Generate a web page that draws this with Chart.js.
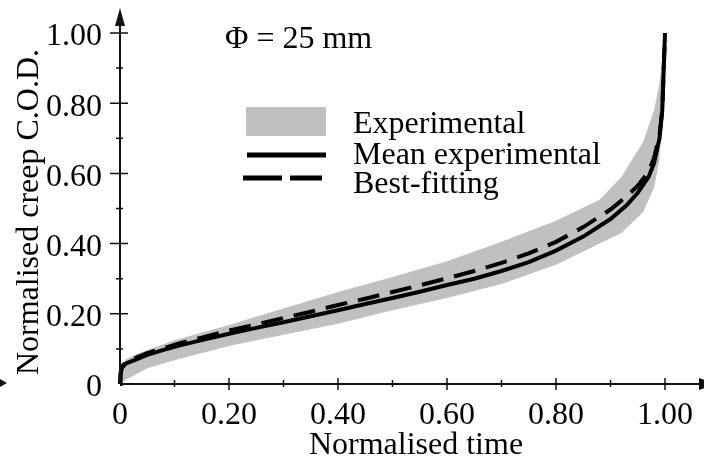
<!DOCTYPE html>
<html>
<head>
<meta charset="utf-8">
<script src="https://cdn.jsdelivr.net/npm/chart.js@4.4.1/dist/chart.umd.min.js"></script>
<style>
  html, body { margin: 0; padding: 0; background: #fff; }
  #wrap { width: 704px; height: 464px; }
</style>
</head>
<body>
<div id="wrap"><canvas id="creepchart" width="704" height="464"></canvas></div>
<script>
// experimental scatter band (upper / lower edge)
const bandTime = [0, 0.01, 0.03, 0.05, 0.1, 0.2, 0.3, 0.4, 0.5, 0.6, 0.7, 0.8, 0.88, 0.92, 0.96, 0.98, 0.99, 1.0];
const bandUpper = [0, 0.07, 0.085, 0.097, 0.125, 0.168, 0.215, 0.262, 0.305, 0.35, 0.405, 0.465, 0.525, 0.59, 0.69, 0.78, 0.86, 1.0];
const bandLower = [0, 0.012, 0.028, 0.045, 0.068, 0.108, 0.14, 0.172, 0.21, 0.245, 0.285, 0.34, 0.40, 0.43, 0.49, 0.56, 0.64, 1.0];

// mean experimental curve and best-fitting curve
const meanTime = [0, 0.001, 0.003, 0.01, 0.03, 0.05, 0.08, 0.11, 0.15, 0.2, 0.25, 0.3, 0.35, 0.4, 0.45, 0.5, 0.55, 0.6, 0.65, 0.7, 0.75, 0.8, 0.85, 0.9, 0.93, 0.95, 0.97, 0.98, 0.99, 0.995, 1.0];
const meanCod = [0, 0.025, 0.045, 0.058, 0.07, 0.083, 0.097, 0.11, 0.125, 0.143, 0.16, 0.176, 0.193, 0.21, 0.228, 0.245, 0.263, 0.282, 0.3, 0.322, 0.347, 0.38, 0.42, 0.47, 0.51, 0.545, 0.59, 0.63, 0.70, 0.78, 1.0];
const fitCod = [0, 0.03, 0.048, 0.062, 0.075, 0.088, 0.102, 0.116, 0.132, 0.152, 0.17, 0.188, 0.206, 0.225, 0.243, 0.262, 0.281, 0.301, 0.322, 0.345, 0.372, 0.405, 0.447, 0.497, 0.535, 0.565, 0.605, 0.645, 0.71, 0.78, 1.0];

const xTickLabels = ["0", "0.20", "0.40", "0.60", "0.80", "1.00"];
const yTickLabels = ["0", "0.20", "0.40", "0.60", "0.80", "1.00"];
const minorTicks = [0.1, 0.3, 0.5, 0.7, 0.9];
const legendLabels = ["Experimental", "Mean experimental", "Best-fitting"];
const noteText = "\u03A6 = 25 mm";
const xTitle = "Normalised time";
const yTitle = "Normalised creep C.O.D.";

const FONT = "Liberation Serif";
const GREY = "#c0c0c0";
const INK = "#111";

function pts(xs, ys) {
    return xs.map((x, i) => ({ x: x, y: ys[i] }));
}

// axes with arrows, tick marks, titles, legend and note
const decorations = {
    id: "decorations",
    afterDraw(chart) {
        const ctx = chart.ctx;
        const xs = chart.scales.x;
        const ys = chart.scales.y;
        const x0 = xs.getPixelForValue(0);
        const y0 = ys.getPixelForValue(0);
        ctx.save();
        ctx.strokeStyle = INK;
        ctx.fillStyle = INK;
        ctx.lineWidth = 2;

        // axis lines
        ctx.beginPath();
        ctx.moveTo(x0, y0);
        ctx.lineTo(x0, 20);
        ctx.moveTo(x0, y0);
        ctx.lineTo(704, y0);
        ctx.stroke();

        // arrow heads
        ctx.beginPath();
        ctx.moveTo(x0, 8);
        ctx.lineTo(x0 - 5, 26);
        ctx.lineTo(x0 + 5, 26);
        ctx.closePath();
        ctx.fill();
        ctx.beginPath();
        ctx.moveTo(716, y0);
        ctx.lineTo(699, y0 - 6);
        ctx.lineTo(699, y0 + 6);
        ctx.closePath();
        ctx.fill();
        ctx.beginPath();
        ctx.moveTo(7, y0 - 1);
        ctx.lineTo(0, y0 - 5);
        ctx.lineTo(0, y0 + 3);
        ctx.closePath();
        ctx.fill();

        // tick marks
        ctx.lineWidth = 1.5;
        ctx.beginPath();
        xTickLabels.forEach((t) => {
            const v = parseFloat(t);
            if (v === 0) return;
            const px = xs.getPixelForValue(v);
            ctx.moveTo(px, y0 - 6);
            ctx.lineTo(px, y0 + 6);
        });
        yTickLabels.forEach((t) => {
            const v = parseFloat(t);
            if (v === 0) return;
            const py = ys.getPixelForValue(v);
            ctx.moveTo(x0 - 10, py);
            ctx.lineTo(x0 + 8, py);
        });
        minorTicks.forEach((v) => {
            const px = xs.getPixelForValue(v);
            ctx.moveTo(px, y0 - 4);
            ctx.lineTo(px, y0 + 3);
            const py = ys.getPixelForValue(v);
            ctx.moveTo(x0 - 4, py);
            ctx.lineTo(x0 + 3, py);
        });
        ctx.stroke();

        // axis titles
        ctx.fillStyle = "#000";
        ctx.font = "32px '" + FONT + "'";
        ctx.textBaseline = "alphabetic";
        ctx.textAlign = "center";
        ctx.fillText(xTitle, 416, 454);
        ctx.save();
        ctx.translate(38, 212);
        ctx.rotate(-Math.PI / 2);
        ctx.fillText(yTitle, 0, 0);
        ctx.restore();

        // note
        ctx.textAlign = "left";
        ctx.fillText(noteText, 225, 48);

        // legend
        const ds = chart.data.datasets;
        ctx.fillStyle = ds[1].backgroundColor;
        ctx.fillRect(246, 107, 80, 29);
        ctx.strokeStyle = ds[2].borderColor;
        ctx.lineWidth = ds[2].borderWidth + 1;
        ctx.beginPath();
        ctx.moveTo(247, 155);
        ctx.lineTo(326, 155);
        ctx.stroke();
        ctx.lineWidth = ds[3].borderWidth + 1;
        ctx.setLineDash([39, 8]);
        ctx.beginPath();
        ctx.moveTo(243, 178);
        ctx.lineTo(322, 178);
        ctx.stroke();
        ctx.setLineDash([]);
        ctx.fillStyle = "#000";
        ctx.fillText(legendLabels[0], 353, 133);
        ctx.fillText(legendLabels[1], 353, 164);
        ctx.fillText(legendLabels[2], 353, 193);
        ctx.restore();
    }
};

document.addEventListener("DOMContentLoaded", function () {
    const canvas = document.getElementById("creepchart");
    new Chart(canvas.getContext("2d"), {
        type: "line",
        data: {
            datasets: [
                {
                    label: legendLabels[0] + " (lower)",
                    data: pts(bandTime, bandLower),
                    borderWidth: 0,
                    borderColor: GREY,
                    backgroundColor: GREY,
                    pointRadius: 0,
                    fill: false,
                    order: 3
                },
                {
                    label: legendLabels[0],
                    data: pts(bandTime, bandUpper),
                    borderWidth: 0,
                    borderColor: GREY,
                    backgroundColor: GREY,
                    pointRadius: 0,
                    fill: "-1",
                    order: 2
                },
                {
                    label: legendLabels[1],
                    data: pts(meanTime, meanCod),
                    borderColor: "#000",
                    borderWidth: 4,
                    pointRadius: 0,
                    fill: false,
                    clip: 6,
                    order: 1
                },
                {
                    label: legendLabels[2],
                    data: pts(meanTime, fitCod),
                    borderColor: "#000",
                    borderWidth: 4,
                    borderDash: [22, 11],
                    pointRadius: 0,
                    fill: false,
                    clip: 6,
                    order: 0
                }
            ]
        },
        options: {
            responsive: false,
            animation: false,
            devicePixelRatio: 1,
            layout: { padding: { top: 33, right: 39, left: 0, bottom: 0 } },
            plugins: {
                legend: { display: false },
                tooltip: { enabled: false }
            },
            scales: {
                x: {
                    type: "linear",
                    min: 0,
                    max: 1,
                    grid: { display: false },
                    border: { display: false },
                    ticks: {
                        stepSize: 0.2,
                        autoSkip: false,
                        maxRotation: 0,
                        padding: 4,
                        color: "#000",
                        font: { family: FONT, size: 32 },
                        callback: (v) => xTickLabels[Math.round(v / 0.2)]
                    },
                    afterFit: (s) => { s.height = 80; }
                },
                y: {
                    type: "linear",
                    min: 0,
                    max: 1,
                    grid: { display: false },
                    border: { display: false },
                    ticks: {
                        stepSize: 0.2,
                        padding: 10,
                        labelOffset: 4,
                        color: "#000",
                        font: { family: FONT, size: 32 },
                        callback: (v) => yTickLabels[Math.round(v / 0.2)]
                    },
                    afterFit: (s) => { s.width = 120; }
                }
            }
        },
        plugins: [decorations]
    });
});
</script>
</body>
</html>
